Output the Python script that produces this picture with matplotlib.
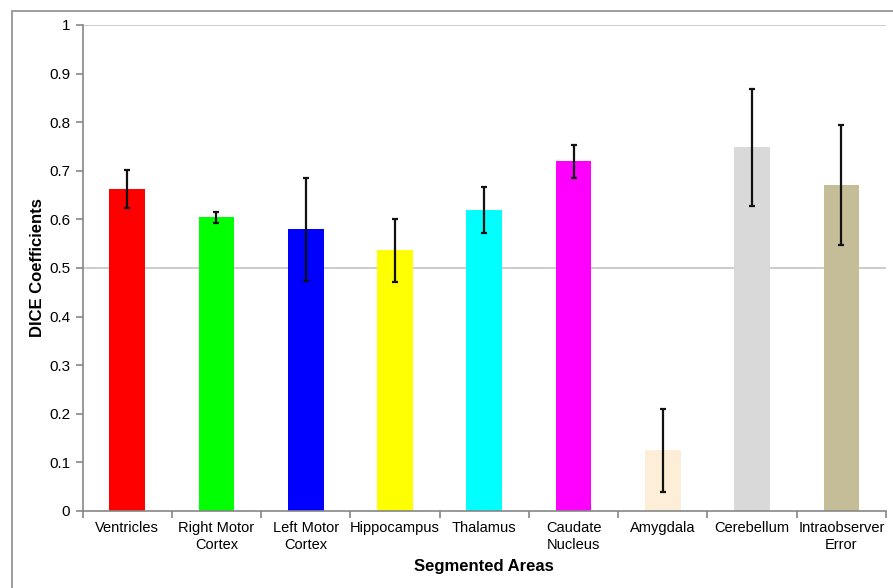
import numpy as np
import matplotlib.pyplot as plt
from matplotlib.patches import Rectangle

plt.rcParams['font.family'] = ['Liberation Sans', 'DejaVu Sans']

areas = ['Ventricles', 'Right Motor\nCortex', 'Left Motor\nCortex', 'Hippocampus',
         'Thalamus', 'Caudate\nNucleus', 'Amygdala', 'Cerebellum', 'Intraobserver\nError']
dice = [0.662, 0.604, 0.580, 0.536, 0.620, 0.720, 0.125, 0.748, 0.671]
err = [0.039, 0.011, 0.106, 0.064, 0.047, 0.034, 0.085, 0.120, 0.124]
colors = ['#FF0000', '#00FF00', '#0000FF', '#FFFF00', '#00FFFF', '#FF00FF',
          '#FDEFD7', '#D9D9D9', '#C4BD97']

fig = plt.figure(figsize=(8.93, 5.88), dpi=100)
# outer chart border (cropped on right/bottom)
fig.add_artist(Rectangle((12/893, -0.1), 1.2, 0.1 + 1 - 11/588, transform=fig.transFigure,
                         fill=False, edgecolor='#8c8c8c', lw=1.2))

ax = fig.add_axes([0.0924, 0.131, 0.8998, 0.8265])
x = np.arange(len(areas))
ax.bar(x, dice, width=0.4, color=colors, zorder=2)
ax.errorbar(x, dice, yerr=err, fmt='none', ecolor='#111111', elinewidth=1.6,
            capsize=2.5, capthick=1.6, zorder=3)

ax.set_xlim(-0.5, len(areas) - 0.5)
ax.set_ylim(0, 1)
ax.set_yticks(np.arange(0, 1.01, 0.1))
ax.set_yticklabels(['0'] + ['%.1f' % v for v in np.arange(0.1, 0.95, 0.1)] + ['1'])
for gy in [0.5, 1.0]:
    ax.axhline(gy, color='#bfbfbf', lw=1.1, zorder=1)

ax.set_xticks(x)
ax.set_xticklabels(areas, fontsize=10.5, linespacing=1.3)
ax.set_xticks(np.arange(-0.5, len(areas), 1), minor=True)
ax.tick_params(axis='x', which='major', length=0, pad=7)
ax.tick_params(axis='x', which='minor', length=5, color='#868686', width=1.2)
ax.tick_params(axis='y', length=5, color='#868686', width=1.2, labelsize=11, pad=4)

for s in ['top', 'right']:
    ax.spines[s].set_visible(False)
for s in ['left', 'bottom']:
    ax.spines[s].set_color('#868686')
    ax.spines[s].set_linewidth(1.2)

ax.set_ylabel('DICE Coefficients', fontsize=12, fontweight='bold', labelpad=3)
ax.set_xlabel('Segmented Areas', fontsize=12, fontweight='bold', labelpad=5)

fig.savefig('out.png', dpi=100)
